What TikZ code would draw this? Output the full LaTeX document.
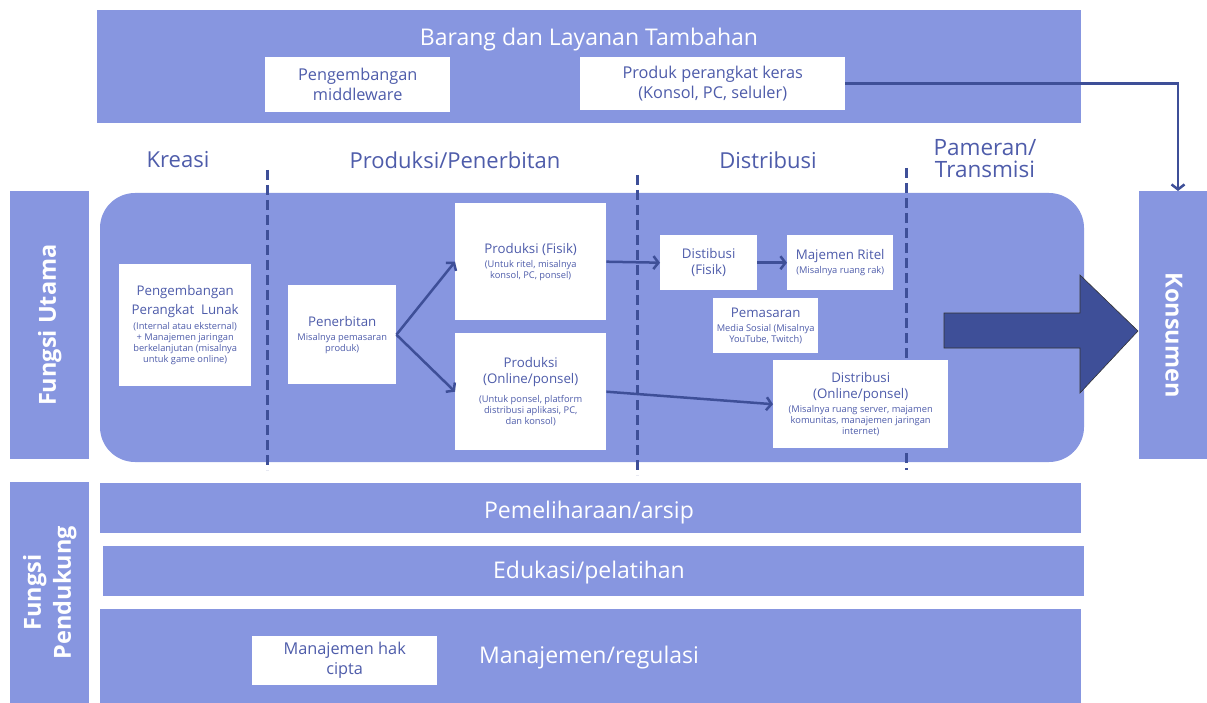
\documentclass[tikz,border=0pt]{standalone}
\usepackage{fontspec}
\setmainfont{Open Sans}
\usepackage{tikz}
\usetikzlibrary{positioning, arrows.meta}
\usepackage{xcolor}
\definecolor{bandblue}{RGB}{135,150,224}
\definecolor{darkblue}{RGB}{62,79,152}
\definecolor{textblue}{RGB}{78,92,170}
\newcommand{\boxtitle}[1]{{\fontsize{13.3}{16}\selectfont #1}}

\begin{document}
\begin{tikzpicture}[x=1pt, y=-1pt, every node/.style={font=\fontsize{9.3}{11}\selectfont}]
  \tikzstyle{band} = [rectangle, fill=bandblue, inner sep=0pt, anchor=north west]
  \tikzstyle{whitebox} = [rectangle, fill=white, inner sep=0pt, align=center, text=textblue, anchor=north west]
  \tikzstyle{topbox} = [whitebox, font=\fontsize{16.3}{20}\selectfont]
  \tikzstyle{bandtext} = [text=white, font=\fontsize{23}{27}\selectfont]
  \tikzstyle{header} = [text=textblue, align=center, font=\fontsize{22}{22}\selectfont]
  \tikzstyle{sidetext} = [text=white, align=center, font=\bfseries\fontsize{23.5}{30}\selectfont]
  \tikzstyle{divider} = [draw=darkblue, line width=3pt, dash pattern=on 10pt off 5pt]
  \tikzstyle{arrow} = [draw=darkblue, line width=2.5pt, -{Straight Barb[length=5pt, width=13pt]}]

  \useasboundingbox (0,0) rectangle (1207,703);

  % top band
  \node (extra) [band, minimum width=984pt, minimum height=113pt] at (97,10) {};
  \node (extratitle) [bandtext] at (589,40) {Barang dan Layanan Tambahan};
  \node (middleware) [topbox, minimum width=185pt, minimum height=55pt] at (265,57)
    {Pengembangan\\middleware};
  \node (hardware) [topbox, minimum width=265pt, minimum height=53pt] at (580,57)
    {Produk perangkat keras\\(Konsol, PC, seluler)};

  % stage headers
  \node (kreasi) [header] at (178,160) {Kreasi};
  \node (produksi) [header] at (455,160) {Produksi/Penerbitan};
  \node (distribusi) [header] at (768,160) {Distribusi};
  \node (pameran) [header, font=\fontsize{22.5}{22}\selectfont] at (985,159) {Pameran/\\Transmisi};

  % side tabs
  \node (utama) [band, minimum width=79pt, minimum height=268pt] at (10,191) {};
  \node [sidetext, rotate=90] at (utama.center) {Fungsi Utama};
  \node (pendukung) [band, minimum width=79pt, minimum height=221pt] at (10,482) {};
  \node [sidetext, rotate=90] at (pendukung.center) {Fungsi\\Pendukung};
  \node (konsumen) [band, minimum width=68pt, minimum height=268pt] at (1139,191) {};
  \node [sidetext, rotate=-90] at (1174,335) {Konsumen};

  % main area
  \fill[bandblue, rounded corners=35pt] (100,193) rectangle (1084,462);
  \coordinate (d1top) at (267,170);
  \coordinate (d1bot) at (267,470);
  \coordinate (d2top) at (637,175);
  \coordinate (d2bot) at (637,475);
  \coordinate (d3top) at (906,168);
  \coordinate (d3bot) at (906,470);
  \draw[divider] (d1top) -- (d1bot);
  \draw[divider] (d2top) -- (d2bot);
  \draw[divider] (d3top) -- (d3bot);

  \node (software) [whitebox, minimum width=132pt, minimum height=122pt] at (119,264)
    {\boxtitle{Pengembangan}\\[5pt]\boxtitle{Perangkat\ \ Lunak}\\[4pt](Internal atau eksternal)\\+ Manajemen jaringan\\berkelanjutan (misalnya\\untuk game online)};
  \node (penerbitan) [whitebox, minimum width=108pt, minimum height=99pt] at (288,285)
    {\boxtitle{Penerbitan}\\[3pt]Misalnya pemasaran\\produk)};
  \node (fisik) [whitebox, minimum width=151pt, minimum height=117pt] at (455,203)
    {\boxtitle{Produksi (Fisik)}\\[3pt](Untuk ritel, misalnya\\konsol, PC, ponsel)};
  \node (online) [whitebox, minimum width=151pt, minimum height=117pt] at (455,333)
    {\boxtitle{Produksi}\\[5pt]\boxtitle{(Online/ponsel)}\\[8pt](Untuk ponsel, platform\\distribusi aplikasi, PC,\\dan konsol)};
  \node (distfisik) [whitebox, minimum width=97pt, minimum height=55pt] at (660,235)
    {\boxtitle{Distibusi}\\[5pt]\boxtitle{(Fisik)}};
  \node (ritel) [whitebox, minimum width=106pt, minimum height=55pt] at (787,235)
    {\boxtitle{Majemen Ritel}\\[3pt](Misalnya ruang rak)};
  \node (pemasaran) [whitebox, minimum width=105pt, minimum height=55pt] at (713,298)
    {\boxtitle{Pemasaran}\\[3pt]Media Sosial (Misalnya\\YouTube, Twitch)};
  \node (distonline) [whitebox, minimum width=175pt, minimum height=88pt] at (773,360)
    {\boxtitle{Distribusi}\\[5pt]\boxtitle{(Online/ponsel)}\\[3pt](Misalnya ruang server, majamen\\komunitas, manajemen jaringan\\internet)};

  % big arrow to consumers
  \draw[fill=darkblue, draw=black!80, line width=0.6pt]
    (944,313) -- (1080,313) -- (1080,275) -- (1138,331) -- (1080,393) -- (1080,348) -- (944,348) -- cycle;

  % support bands
  \node (arsip) [band, minimum width=981pt, minimum height=50pt] at (100,483) {};
  \node [bandtext] at (589,513) {Pemeliharaan/arsip};
  \node (edukasi) [band, minimum width=981pt, minimum height=50pt] at (103,546) {};
  \node [bandtext] at (589,573) {Edukasi/pelatihan};
  \node (regulasi) [band, minimum width=981pt, minimum height=94pt] at (100,609) {};
  \node [bandtext] at (589,658) {Manajemen/regulasi};
  \node (hakcipta) [topbox, minimum width=185pt, minimum height=49pt] at (252,636)
    {Manajemen hak\\cipta};

  % connectors
  \coordinate (konsumenin) at (1178,191);
  \draw [arrow] (penerbitan.east) -- (fisik.west);
  \draw [arrow] (penerbitan.east) -- (online.west);
  \draw [arrow] (fisik.east) -- (distfisik.west);
  \draw [arrow] (distfisik.east) -- (ritel.west);
  \draw [arrow] (online.east) -- (distonline.west);
  \draw [arrow] (hardware.east) -| (konsumenin);
\end{tikzpicture}
\end{document}
